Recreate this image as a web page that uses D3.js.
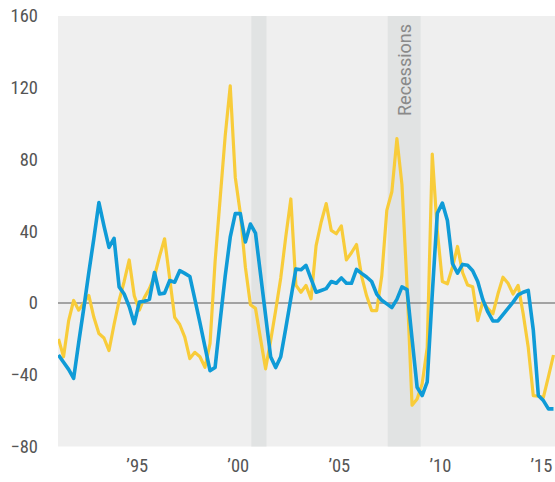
<!DOCTYPE html>
<meta charset="utf-8">
<head>
  <title>recessions-chart</title>
</head>
<style>
  body { margin: 0; background: #fff; }
  .tick text { font-family: "Liberation Sans Narrow", "Roboto Condensed", Roboto, sans-serif; font-size: 18.5px; fill: #555; }
  .rec-label { font-family: "Liberation Sans Narrow", Roboto, sans-serif; font-size: 18px; fill: #8a8a8a; }
</style>
<body>
  <svg width="555" height="482"></svg>

  <script src="https://cdnjs.cloudflare.com/ajax/libs/d3/7.8.5/d3.min.js"></script>
  <script>
    // quarterly, starting 1991 Q3 (mid-quarter positions)
    var firstQuarter = 1991.625
    var blueValues = [-29, -33, -37, -42, -22, -3, 17, 36, 56, 43,
      31, 36, 9, 5, -2, -11.5, 0.5, 1, 2, 17,
      5, 5.5, 12.5, 11.6, 18, 16.5, 14.8, 2, -11, -24.5,
      -37.7, -36, -10, 15, 36.7, 49.8, 49.8, 34, 44, 39,
      16, -7, -30, -36, -30, -14, 2.5, 19, 18.5, 21,
      13.5, 6, 7, 8, 12, 11, 14, 11, 11, 18.7,
      16.5, 14.5, 12, 5, 1.5, -0.5, -2.5, 2, 9, 7.5,
      -20, -47, -51.6, -44, 5, 50, 55.7, 46, 22, 16.6,
      21.5, 21, 18, 12, 2, -5, -10, -10, -6.5, -3,
      0.5, 4.5, 6, 7, -15, -51.6, -54.4, -59, -59]
    var goldValues = [-20, -30, -10, 1.4, -4, 0, 4.2, -8, -17, -19.5,
      -26.5, -12, 1.4, 12, 24, 4, -4, 3, 8, 15,
      26, 35.8, 14, -8, -12, -19, -31, -27.5, -30, -35.8,
      -22.6, 23, 58, 93, 121, 70, 50, 20, -1, -3,
      -20, -36.7, -21, -4, 14, 37, 58, 10, 6, 9.8,
      2.3, 32, 45, 55.4, 40.5, 38.6, 43, 24, 28, 32.6,
      15, 4, -4.2, -4.2, 15, 51.6, 62, 91.6, 66, 10,
      -57, -53.5, -45, -25, 83, 40, 12, 10.7, 20, 31.5,
      17, 10, 9, -9.8, 0.5, -3, -6, 5, 14.4, 11,
      5, 9.8, -6, -24.7, -51.6, -52, -52.6, -41, -29]
    var recessions = [[2001.17, 2001.92], [2007.92, 2009.55]]
    var yTicks = [-80, -40, 0, 40, 80, 120, 160]
    var xTicks = [1995, 2000, 2005, 2010, 2015]

    var plotLeft = 58, plotRight = 555, plotTop = 16, plotBottom = 446.5

    var x = d3.scaleLinear().domain([1991.6, 2016.2]).range([plotLeft, plotRight])
    var y = d3.scaleLinear().domain([-80, 160]).range([plotBottom, plotTop])

    var quarters = blueValues.map(function(d, i) { return firstQuarter + i * 0.25 })

    var svg = d3.select('svg')

    svg.append('clipPath').attr('id', 'plot')
      .append('rect')
      .attr('x', plotLeft).attr('y', plotTop)
      .attr('width', plotRight - plotLeft).attr('height', plotBottom - plotTop)

    svg.append('rect')
      .attr('x', plotLeft).attr('y', plotTop)
      .attr('width', plotRight - plotLeft).attr('height', plotBottom - plotTop)
      .attr('fill', '#efefef')

    svg.selectAll('.rec')
      .data(recessions)
      .enter().append('rect')
      .attr('class', 'rec')
      .attr('x', function(d) { return x(d[0]) })
      .attr('width', function(d) { return x(d[1]) - x(d[0]) })
      .attr('y', plotTop)
      .attr('height', plotBottom - plotTop)
      .attr('fill', '#e1e3e3')

    var r2 = recessions[1]
    svg.append('text')
      .attr('class', 'rec-label')
      .attr('transform', 'translate(' + ((x(r2[0]) + x(r2[1])) / 2 + 6.5) + ',' + (plotTop + 100) + ') rotate(-90)')
      .text('Recessions')

    svg.append('line')
      .attr('x1', plotLeft).attr('x2', plotRight)
      .attr('y1', y(0)).attr('y2', y(0))
      .attr('stroke', '#8a8a8a')
      .attr('stroke-width', 1.5)

    var line = d3.line()
      .x(function(d) { return x(d[0]) })
      .y(function(d) { return y(d[1]) })

    var g = svg.append('g').attr('clip-path', 'url(#plot)')

    g.append('path')
      .datum(d3.zip(quarters, goldValues))
      .attr('d', line)
      .attr('fill', 'none')
      .attr('stroke', '#f8cc3a')
      .attr('stroke-width', 3.2)
      .attr('stroke-linejoin', 'round')

    g.append('path')
      .datum(d3.zip(quarters, blueValues))
      .attr('d', line)
      .attr('fill', 'none')
      .attr('stroke', '#0f9bd7')
      .attr('stroke-width', 3.6)
      .attr('stroke-linejoin', 'round')

    var yAxis = svg.append('g')
      .attr('transform', 'translate(38,0)')
      .call(d3.axisLeft(y).tickValues(yTicks).tickSize(0).tickPadding(0))
    yAxis.select('.domain').remove()

    var xAxis = svg.append('g')
      .attr('transform', 'translate(0,459)')
      .call(d3.axisBottom(x).tickValues(xTicks.map(function(d) { return d + 0.5 }))
        .tickSize(0).tickPadding(0)
        .tickFormat(function(d) { return '\u2019' + String(Math.floor(d)).slice(2) }))
    xAxis.select('.domain').remove()
  </script>
</body>
</html>
